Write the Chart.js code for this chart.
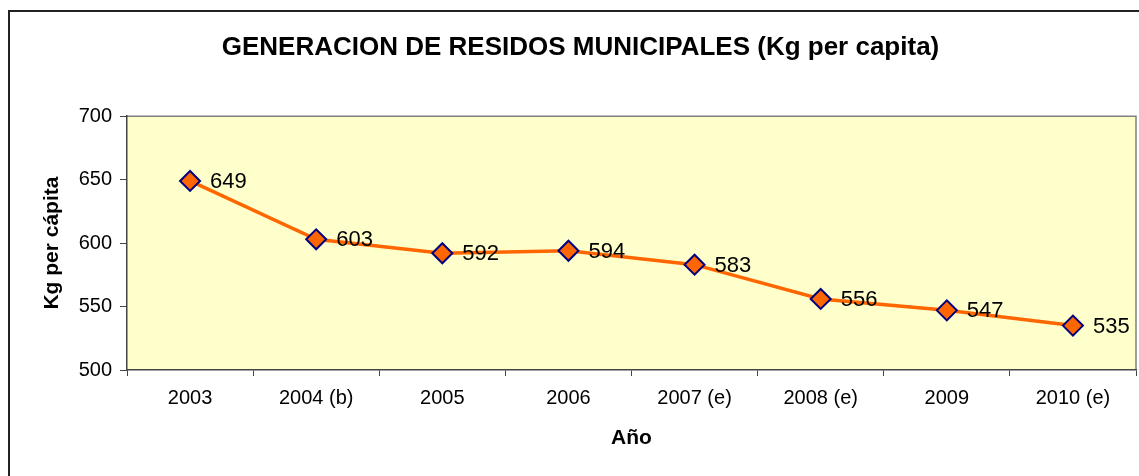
<!DOCTYPE html>
<html lang="es">
<head>
    <meta charset="UTF-8">
    <title>Generacion de residos municipales</title>
    <script src="https://cdn.jsdelivr.net/npm/chart.js"></script>
    <style>
        html, body { margin: 0; padding: 0; background: #fff; }
        #wrap { width: 1139px; height: 476px; position: relative; }
    </style>
</head>
<body>
    <div id="wrap"><canvas id="residuosChart" width="1139" height="476"></canvas></div>

    <script>
        // Datos
        const anios = ['2003', '2004 (b)', '2005', '2006', '2007 (e)', '2008 (e)', '2009', '2010 (e)'];
        const kgPerCapita = [649, 603, 592, 594, 583, 556, 547, 535];
        const yMin = 500;
        const yMax = 700;
        const yPaso = 50;

        const fuente = "'Liberation Sans', Arial, sans-serif";

        // fondo amarillo del area de trazado y marco exterior
        const fondoPlugin = {
            id: 'fondo',
            beforeDraw(chart) {
                const { ctx, chartArea: a } = chart;
                ctx.save();
                ctx.fillStyle = '#fff';
                ctx.fillRect(0, 0, chart.width, chart.height);
                ctx.fillStyle = '#FFFFCC';
                ctx.fillRect(a.left, a.top, a.right - a.left, a.bottom - a.top);
                ctx.strokeStyle = '#808080';
                ctx.lineWidth = 1.5;
                ctx.beginPath();
                ctx.moveTo(a.left, a.top);
                ctx.lineTo(a.right, a.top);
                ctx.lineTo(a.right, a.bottom);
                ctx.stroke();
                ctx.strokeStyle = '#222';
                ctx.lineWidth = 2;
                ctx.beginPath();
                ctx.moveTo(9, chart.height + 5);
                ctx.lineTo(9, 11);
                ctx.lineTo(chart.width + 5, 11);
                ctx.stroke();
                ctx.restore();
            }
        };

        // etiquetas de valor a la derecha de cada punto
        const etiquetasPlugin = {
            id: 'etiquetas',
            afterDatasetsDraw(chart) {
                const { ctx } = chart;
                const meta = chart.getDatasetMeta(0);
                ctx.save();
                ctx.font = '22px ' + fuente;
                ctx.fillStyle = '#000';
                ctx.textAlign = 'left';
                ctx.textBaseline = 'middle';
                meta.data.forEach((pt, i) => {
                    ctx.fillText(String(kgPerCapita[i]), pt.x + 20, pt.y + 1);
                });
                ctx.restore();
            }
        };

        const ctx = document.getElementById('residuosChart').getContext('2d');
        new Chart(ctx, {
            type: 'line',
            data: {
                labels: anios,
                datasets: [{
                    label: 'Kg per cápita',
                    data: kgPerCapita,
                    borderColor: '#FF6600',
                    borderWidth: 3.5,
                    backgroundColor: '#FF6600',
                    pointStyle: 'rectRot',
                    pointRadius: 10,
                    pointBackgroundColor: '#FF6600',
                    pointBorderColor: '#000080',
                    pointBorderWidth: 2,
                    tension: 0,
                    fill: false
                }]
            },
            options: {
                responsive: false,
                animation: false,
                devicePixelRatio: 1,
                layout: { autoPadding: false, padding: { left: 25, right: 3, top: 0, bottom: 0 } },
                plugins: {
                    legend: { display: false },
                    tooltip: { enabled: false },
                    title: {
                        display: true,
                        text: 'GENERACION DE RESIDOS MUNICIPALES (Kg per capita)',
                        color: '#000',
                        font: { family: fuente, size: 26, weight: 'bold' },
                        padding: { top: 32, bottom: 53 }
                    }
                },
                scales: {
                    x: {
                        offset: true,
                        afterFit(scale) { scale.height = 106; },
                        grid: {
                            offset: true,
                            drawOnChartArea: false,
                            tickLength: 6,
                            color: '#444'
                        },
                        border: { color: '#444', width: 1.5 },
                        ticks: {
                            color: '#000',
                            padding: 10,
                            maxRotation: 0,
                            font: { family: fuente, size: 20 }
                        },
                        title: {
                            display: true,
                            text: 'Año',
                            color: '#000',
                            font: { family: fuente, size: 21, weight: 'bold' },
                            padding: { top: 0, bottom: 25 }
                        }
                    },
                    y: {
                        min: yMin,
                        max: yMax,
                        afterFit(scale) { scale.width = 102; },
                        grid: {
                            drawOnChartArea: false,
                            tickLength: 7,
                            color: '#444'
                        },
                        border: { color: '#444', width: 1.5 },
                        ticks: {
                            stepSize: yPaso,
                            color: '#000',
                            padding: 8,
                            font: { family: fuente, size: 20 }
                        },
                        title: {
                            display: true,
                            text: 'Kg per cápita',
                            color: '#000',
                            font: { family: fuente, size: 21, weight: 'bold' },
                            padding: { top: 15, bottom: 0 }
                        }
                    }
                }
            },
            plugins: [fondoPlugin, etiquetasPlugin]
        });
    </script>
</body>
</html>
